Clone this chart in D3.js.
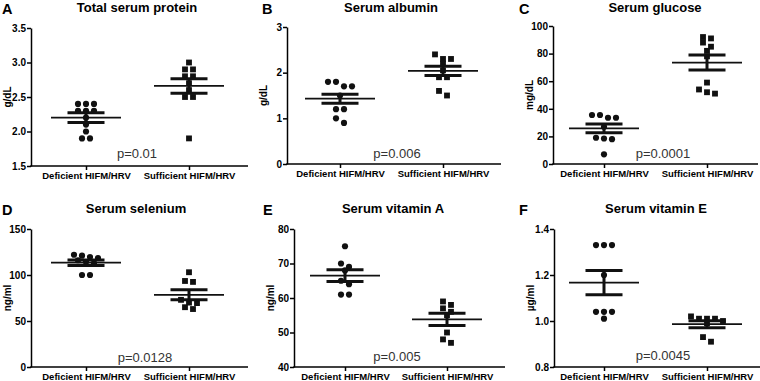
<!DOCTYPE html>
<html>
<head>
<meta charset="utf-8">
<script src="https://cdn.jsdelivr.net/npm/d3@7"></script>
<style>
body { margin: 0; background: #fff; }
text { font-family: Arial, 'Liberation Sans', sans-serif; }
</style>
</head>
<body>
<div class="canvas"></div>
<script>
// Groups (x categories)
const groups = ['Deficient HIFM/HRV', 'Sufficient HIFM/HRV']

// Individual values
const proteinDef = [2.4, 2.4, 2.4, 2.3, 2.3, 2.3, 2.2, 2.1, 2.0, 1.9, 1.9]
const proteinSuf = [3.0, 2.9, 2.9, 2.8, 2.8, 2.7, 2.6, 2.5, 2.5, 1.9]
const albuminDef = [1.8, 1.8, 1.7, 1.7, 1.5, 1.2, 1.2, 1.0, 0.9]
const albuminSuf = [2.4, 2.3, 2.3, 2.2, 2.05, 1.9, 1.9, 1.6, 1.5]
const glucoseDef = [35.5, 35.5, 33.5, 33.5, 27, 19, 18.5, 18, 7]
const glucoseSuf = [92, 91, 88, 85, 82, 78, 59, 54, 52, 51]
const seleniumDef = [122, 121, 119.5, 118.5, 116, 114, 113, 100, 100]
const seleniumSuf = [103, 93.5, 92.5, 73, 70, 69.5, 65, 63]
const vitADef = [75, 70, 69, 68, 65, 64, 61, 61]
const vitASuf = [59, 58, 57, 56, 55, 50, 48, 47]
const vitEDef = [1.33, 1.33, 1.33, 1.2, 1.04, 1.04, 1.04, 1.01]
const vitESuf = [1.02, 1.01, 1.01, 1.01, 1.0, 0.99, 0.93, 0.91]

// Mean and SEM bars as drawn
const proteinMean = [2.2, 2.66], proteinSem = [0.07, 0.105]
const albuminMean = [1.43, 2.04], albuminSem = [0.1, 0.1]
const glucoseMean = [25.8, 73.5], glucoseSem = [3.1, 5.4]
const seleniumMean = [113.4, 78.5], seleniumSem = [3.0, 5.4]
const vitAMean = [66.5, 53.8], vitASem = [1.7, 1.8]
const vitEMean = [1.167, 0.986], vitESem = [0.053, 0.015]

// Y axis ticks
const proteinTicks = [1.5, 2.0, 2.5, 3.0, 3.5]
const albuminTicks = [0, 1, 2, 3]
const glucoseTicks = [0, 20, 40, 60, 80, 100]
const seleniumTicks = [0, 50, 100, 150]
const vitATicks = [40, 50, 60, 70, 80]
const vitETicks = [0.8, 1.0, 1.2, 1.4]

const panels = [
  { letter: 'A', title: 'Total serum protein', unit: 'g/dL', ticks: proteinTicks, fmt: '.1f',
    values: [proteinDef, proteinSuf], mean: proteinMean, sem: proteinSem, p: 'p=0.01' },
  { letter: 'B', title: 'Serum albumin', unit: 'g/dL', ticks: albuminTicks, fmt: 'd',
    values: [albuminDef, albuminSuf], mean: albuminMean, sem: albuminSem, p: 'p=0.006' },
  { letter: 'C', title: 'Serum glucose', unit: 'mg/dL', ticks: glucoseTicks, fmt: 'd',
    values: [glucoseDef, glucoseSuf], mean: glucoseMean, sem: glucoseSem, p: 'p=0.0001' },
  { letter: 'D', title: 'Serum selenium', unit: 'ng/ml', ticks: seleniumTicks, fmt: 'd',
    values: [seleniumDef, seleniumSuf], mean: seleniumMean, sem: seleniumSem, p: 'p=0.0128' },
  { letter: 'E', title: 'Serum vitamin A', unit: 'ng/ml', ticks: vitATicks, fmt: 'd',
    values: [vitADef, vitASuf], mean: vitAMean, sem: vitASem, p: 'p=0.005' },
  { letter: 'F', title: 'Serum vitamin E', unit: 'µg/ml', ticks: vitETicks, fmt: '.1f',
    values: [vitEDef, vitESuf], mean: vitEMean, sem: vitESem, p: 'p=0.0045' }
]

// Panel placement on the page
const layout = [
  { ax: 31, top: 28, bottom: 166, right: 248, c0: 86, c1: 189, lx: 2, ty: 12, tx: 137, px: 137, py: 158 },
  { ax: 287, top: 27, bottom: 164, right: 501, c0: 340, c1: 443, lx: 262, ty: 12, tx: 391, px: 397, py: 158 },
  { ax: 553, top: 26, bottom: 164, right: 758, c0: 604, c1: 707, lx: 519, ty: 12, tx: 655, px: 663, py: 158 },
  { ax: 31, top: 229, bottom: 367, right: 248, c0: 86, c1: 189, lx: 2, ty: 213, tx: 136, px: 145, py: 362 },
  { ax: 294, top: 229, bottom: 367, right: 505, c0: 345, c1: 447, lx: 263, ty: 213, tx: 393, px: 397, py: 361 },
  { ax: 554, top: 229, bottom: 367, right: 760, c0: 604, c1: 707, lx: 519, ty: 213, tx: 656, px: 663, py: 360 }
]

const svg = d3.select('.canvas')
  .append('svg')
  .attr('width', 760)
  .attr('height', 381)

// spread points that sit on the same row, like a column scatter
const swarm = (vals, y, cx) => {
  const sorted = vals.map(v => ({ v, py: y(v) })).sort((a, b) => a.py - b.py)
  const out = []
  let row = []
  const place = r => r.forEach((d, i) => { d.px = cx + (i - (r.length - 1) / 2) * 8; out.push(d) })
  sorted.forEach(d => {
    if (row.length && d.py - row[0].py > 5.5) { place(row); row = [] }
    row.push(d)
  })
  place(row)
  return out
}

panels.forEach((p, k) => {
  const L = layout[k]
  const g = svg.append('g')

  const y = d3.scaleLinear()
    .domain(d3.extent(p.ticks))
    .range([L.bottom, L.top])

  const x = d3.scalePoint()
    .domain(groups)
    .range([L.c0, L.c1])

  // letter + title
  g.append('text')
    .attr('x', L.lx).attr('y', L.ty + 1.5)
    .attr('font-size', 14.5).attr('font-weight', 'bold')
    .text(p.letter)
  g.append('text')
    .attr('x', L.tx).attr('y', L.ty)
    .attr('text-anchor', 'middle')
    .attr('font-size', 13).attr('font-weight', 'bold')
    .text(p.title)

  // y axis
  const yAxisGroup = g.append('g')
    .attr('transform', `translate(${L.ax}, 0)`)
    .call(d3.axisLeft(y).tickValues(p.ticks).tickSize(4).tickSizeOuter(0).tickPadding(1).tickFormat(d3.format(p.fmt)))
  yAxisGroup.selectAll('path, line').attr('stroke', '#000').attr('stroke-width', 1.5)
  yAxisGroup.selectAll('text')
    .attr('font-size', 10).attr('font-weight', 'bold').attr('fill', '#000')
    .style('font-family', 'Arial, Liberation Sans, sans-serif')

  // x axis
  g.append('line')
    .attr('x1', L.ax - 0.75).attr('x2', L.right)
    .attr('y1', L.bottom).attr('y2', L.bottom)
    .attr('stroke', '#000').attr('stroke-width', 1.5)
  const xAxisGroup = g.append('g')
    .attr('transform', `translate(0, ${L.bottom})`)
    .call(d3.axisBottom(x).tickSize(4).tickSizeOuter(0).tickPadding(2))
  xAxisGroup.select('.domain').remove()
  xAxisGroup.selectAll('line').attr('stroke', '#000').attr('stroke-width', 1.5)
  xAxisGroup.selectAll('text')
    .attr('font-size', 9.5).attr('font-weight', 'bold').attr('fill', '#000')
    .style('font-family', 'Arial, Liberation Sans, sans-serif')

  // y axis label
  g.append('text')
    .attr('transform', `translate(${L.ax - 20}, ${(L.top + L.bottom) / 2}) rotate(-90)`)
    .attr('text-anchor', 'middle')
    .attr('font-size', 10).attr('font-weight', 'bold')
    .text(p.unit)

  // points
  p.values.forEach((vals, gi) => {
    const shape = gi === 0 ? d3.symbolCircle : d3.symbolSquare
    const size = gi === 0 ? 30 : 34
    g.selectAll(null)
      .data(swarm(vals, y, x(groups[gi])))
      .enter()
      .append('path')
      .attr('d', d3.symbol(shape, size))
      .attr('transform', d => `translate(${d.px}, ${d.py})`)
      .attr('fill', '#111')
  })

  // mean and SEM
  groups.forEach((grp, gi) => {
    const cx = x(grp)
    const m = p.mean[gi], s = p.sem[gi]
    g.append('line')
      .attr('x1', cx - 35).attr('x2', cx + 35)
      .attr('y1', y(m)).attr('y2', y(m))
      .attr('stroke', '#111').attr('stroke-width', 1.8)
    g.append('line')
      .attr('x1', cx).attr('x2', cx)
      .attr('y1', y(m + s)).attr('y2', y(m - s))
      .attr('stroke', '#111').attr('stroke-width', 3)
    ;[m + s, m - s].forEach(v => {
      g.append('line')
        .attr('x1', cx - 18.5).attr('x2', cx + 18.5)
        .attr('y1', y(v)).attr('y2', y(v))
        .attr('stroke', '#111').attr('stroke-width', 3)
    })
  })

  // p-value
  g.append('text')
    .attr('x', L.px).attr('y', L.py)
    .attr('text-anchor', 'middle')
    .attr('font-size', 13).attr('fill', '#333')
    .text(p.p)
})
</script>
</body>
</html>
